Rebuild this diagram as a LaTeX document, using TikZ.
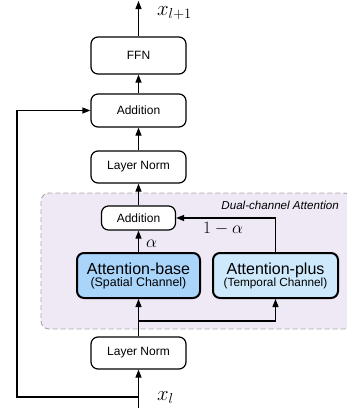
\documentclass[tikz,border=0pt]{standalone}
\usepackage{fontspec}
\setmainfont{Liberation Sans}
\usetikzlibrary{arrows.meta}
\definecolor{lav}{HTML}{EEE9F5}
\definecolor{dashgray}{HTML}{A8A8A8}
\definecolor{baseblue}{HTML}{A9D5FB}
\definecolor{plusblue}{HTML}{CDE9FB}
\tikzset{
  blk/.style={draw=black, line width=1.2pt, rounded corners=7pt, fill=white, align=center, inner sep=0pt, font=\fontsize{12}{14}\selectfont},
  attn/.style={draw=black, line width=2pt, rounded corners=7pt, align=center, inner sep=0pt, minimum width=123pt, minimum height=45pt},
  arr/.style={line width=1.2pt, -{Triangle[length=8pt,width=6pt]}},
  mlab/.style={font=\fontsize{21}{24}\selectfont, inner sep=0pt, anchor=base west},
  glab/.style={font=\fontsize{18}{20}\selectfont, inner sep=0pt, anchor=base west}
}
\begin{document}
\begin{tikzpicture}[x=1pt,y=-1pt]
\useasboundingbox (0,0) rectangle (347,408);
% background region
\draw[dashed, dash pattern=on 5pt off 3pt, draw=dashgray, line width=0.9pt, fill=lav, rounded corners=8pt] (41,193) rectangle (352,329);
\node[anchor=east, font=\fontsize{11.6}{13}\selectfont\itshape, inner sep=0pt] (dlab) at (339,205) {Dual-channel Attention};
% nodes
\node[blk, minimum width=95pt, minimum height=37pt] (ffn) at (138.5,55.5) {FFN};
\node[blk, minimum width=95pt, minimum height=33pt] (add) at (138.5,110.5) {Addition};
\node[blk, minimum width=95pt, minimum height=32pt] (ln1) at (138.5,167) {Layer Norm};
\node[blk, minimum width=74pt, minimum height=24pt] (add2) at (138.5,218) {Addition};
\node[attn, fill=baseblue] (attb) at (138.5,275.5) {{\fontsize{16}{16}\selectfont Attention-base}\\[0pt]{\fontsize{12.4}{15}\selectfont (Spatial Channel)}};
\node[attn, fill=plusblue, minimum width=125pt] (attp) at (275.5,275.5) {{\fontsize{16}{16}\selectfont Attention-plus}\\[0pt]{\fontsize{11.8}{15}\selectfont (Temporal Channel)}};
\node[blk, minimum width=95pt, minimum height=32pt] (ln2) at (138.5,353) {Layer Norm};
% coordinates
\coordinate (out) at (138.5,1);
\coordinate (in) at (138.5,408);
\coordinate (skip) at (138.5,397);
\coordinate (skipcorner) at (17,110.5);
\coordinate (split) at (138.5,321);
% labels
\node[mlab] (xout) at (157,15) {$x_{l+1}$};
\node[mlab] (xin) at (157,400) {$x_l$};
\node[glab] (alab) at (146,247) {$\alpha$};
\node[glab] (blab) at (203,233) {$1-\alpha$};
% connectors
\draw[arr] (ffn.north) -- (out);
\draw[arr] (add.north) -- (ffn.south);
\draw[arr] (ln1.north) -- (add.south);
\draw[arr] (add2.north) -- (ln1.south);
\draw[arr] (attb.north) -- (add2.south);
\draw[arr] (attp.north) |- (add2.east);
\draw[arr] (ln2.north) -- (attb.south);
\draw[arr] (split) -| (attp.south);
\draw[arr] (in) -- (ln2.south);
\draw[arr] (skip) -| (skipcorner) -- (add.west);
\end{tikzpicture}
\end{document}
